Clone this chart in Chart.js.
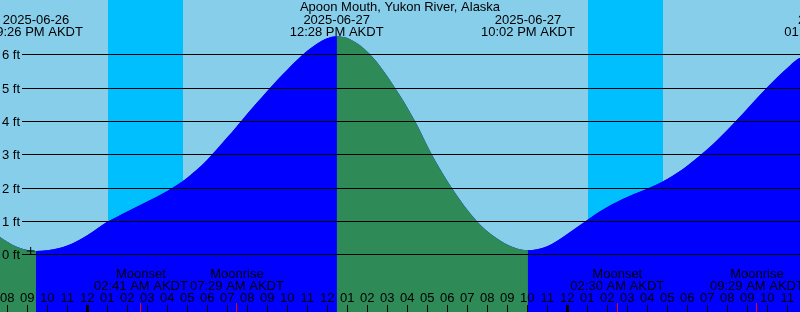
<!DOCTYPE html>
<html>
<head>
<meta charset="utf-8">
<title>Apoon Mouth tide</title>
<script src="https://cdn.jsdelivr.net/npm/chart.js@4.4.1/dist/chart.umd.min.js"></script>
<style>
  html, body { margin: 0; padding: 0; background: #87ceeb; }
  #tide { display: block; }
</style>
</head>
<body>
<canvas id="tide" width="800" height="312"></canvas>
<script>
// times are hours counted from 2025-06-26 00:00 AKDT
var stationName = 'Apoon Mouth, Yukon River, Alaska';

var tideHours = [19.635, 20.0, 20.5, 21.0, 21.433,
    22.0, 22.5, 23.0, 23.5, 24.0, 24.5, 25.0, 25.5, 26.0, 26.5, 27.0, 27.5,
    28.0, 28.5, 29.0, 29.5, 30.0, 30.5, 31.0, 31.5, 32.0, 32.5, 33.0, 33.5,
    34.0, 34.5, 35.0, 35.5, 36.0, 36.467,
    37.135, 38.135, 39.385, 40.385, 41.22, 42.22, 43.47, 44.47, 45.3, 46.033,
    46.5, 47.0, 47.5, 48.0, 48.5, 49.0, 49.5, 50.0, 50.5, 51.0, 51.5, 52.0,
    52.5, 53.0, 53.5, 54.0, 54.5, 55.0, 55.5, 56.0, 56.5, 57.0, 57.5, 58.0,
    58.5, 59.0, 59.5, 59.635];
var tideFeet = [0.52, 0.38, 0.22, 0.13, 0.10,
    0.12, 0.175, 0.265, 0.40, 0.575, 0.775, 0.975, 1.13, 1.285, 1.434, 1.583, 1.735,
    1.898, 2.083, 2.298, 2.548, 2.838, 3.163, 3.508, 3.86, 4.214, 4.562, 4.902, 5.23,
    5.54, 5.835, 6.105, 6.325, 6.48, 6.54,
    6.45, 6.0, 5.0, 4.0, 3.0, 2.0, 1.0, 0.48, 0.21, 0.12,
    0.15, 0.245, 0.405, 0.61, 0.82, 1.03, 1.24, 1.42, 1.58, 1.72, 1.845, 1.97,
    2.10, 2.26, 2.445, 2.66, 2.895, 3.15, 3.43, 3.73, 4.045, 4.37, 4.695, 5.01,
    5.31, 5.59, 5.855, 5.89];

// high / low tide labels
var extremeHours = [21.433, 36.467, 46.033, 61.2];
var extremeDates = ['2025-06-26', '2025-06-27', '2025-06-27', '2025-06-28'];
var extremeClock = ['09:26 PM AKDT', '12:28 PM AKDT', '10:02 PM AKDT', '01:12 PM AKDT'];

// dark part of the night
var sunsetHours = [25.035, 49.035];
var sunriseHours = [28.785, 52.785];

var moonHours = [26.683, 31.483, 50.5, 57.483];
var moonEvents = ['Moonset', 'Moonrise', 'Moonset', 'Moonrise'];
var moonClock = ['02:41 AM AKDT', '07:29 AM AKDT', '02:30 AM AKDT', '09:29 AM AKDT'];

var feetTicks = [0, 1, 2, 3, 4, 5, 6];
var firstTickHour = 20;
var hourLabels = ['08', '09', '10', '11', '12', '01', '02', '03', '04', '05',
    '06', '07', '08', '09', '10', '11', '12', '01', '02', '03',
    '04', '05', '06', '07', '08', '09', '10', '11', '12', '01',
    '02', '03', '04', '05', '06', '07', '08', '09', '10', '11'];

var nowHour = 21.17;
var nowFeet = 0.10;

var SKY = '#87ceeb';
var NIGHT = '#00bfff';
var FLOOD = '#0000ff';
var EBB = '#2e8b57';
var FONT = '13px "Liberation Sans", Arial, sans-serif';

var points = [];
for (var i = 0; i < tideHours.length; i++) {
    points.push({x: tideHours[i], y: tideFeet[i]});
}

var backdrop = {
    id: 'backdrop',
    beforeDraw: function(chart) {
        var ctx = chart.ctx;
        var xs = chart.scales.x;
        ctx.save();
        ctx.fillStyle = SKY;
        ctx.fillRect(0, 0, chart.width, chart.height);
        ctx.fillStyle = NIGHT;
        for (var i = 0; i < sunsetHours.length; i++) {
            var a = Math.round(xs.getPixelForValue(sunsetHours[i]));
            var b = Math.round(xs.getPixelForValue(sunriseHours[i]));
            ctx.fillRect(a, 0, b - a, chart.height);
        }
        ctx.restore();
    }
};

var overlay = {
    id: 'overlay',
    afterDatasetsDraw: function(chart) {
        var ctx = chart.ctx;
        var xs = chart.scales.x;
        var ys = chart.scales.y;
        ctx.save();
        ctx.font = FONT;
        ctx.fillStyle = '#000';
        ctx.strokeStyle = '#000';
        ctx.lineWidth = 1;

        // level lines
        ctx.textAlign = 'right';
        ctx.textBaseline = 'alphabetic';
        feetTicks.forEach(function(v) {
            var y = Math.round(ys.getPixelForValue(v)) + 0.5;
            ctx.beginPath();
            ctx.moveTo(22, y);
            ctx.lineTo(chart.width, y);
            ctx.stroke();
            ctx.fillText(v + ' ft', 20, y + 4);
        });

        // hour ticks
        ctx.textAlign = 'center';
        hourLabels.forEach(function(lab, i) {
            var t = firstTickHour + i;
            var x = xs.getPixelForValue(t);
            var w = (t % 24 === 0) ? 3 : 1;
            ctx.fillStyle = '#000';
            ctx.fillRect(Math.floor(x) - (w - 1) / 2, 305, w, 7);
            ctx.fillText(lab, x, 302);
        });

        // moon
        moonHours.forEach(function(t, i) {
            var x = xs.getPixelForValue(t);
            ctx.fillStyle = '#ff0000';
            ctx.fillRect(Math.floor(x), 303, 1, 9);
            ctx.fillStyle = '#000';
            ctx.fillText(moonEvents[i], x, 278);
            ctx.fillText(moonClock[i], x, 290);
        });

        // tide extremes
        extremeHours.forEach(function(t, i) {
            var x = xs.getPixelForValue(t);
            ctx.fillText(extremeDates[i], x, 24);
            ctx.fillText(extremeClock[i], x, 36);
        });

        ctx.fillText(stationName, chart.width / 2, 11);
        ctx.restore();
    }
};

var chart = new Chart(document.getElementById('tide'), {
    type: 'line',
    data: {
        datasets: [{
            // flood / ebb colouring
            data: points,
            order: 1,
            fill: 'start',
            backgroundColor: EBB,
            borderColor: 'rgba(0,0,0,0)',
            borderWidth: 1,
            pointRadius: 0,
            cubicInterpolationMode: 'monotone',
            segment: {
                backgroundColor: function(c) {
                    return c.p1.parsed.y > c.p0.parsed.y ? FLOOD : EBB;
                }
            }
        }, {
            // plain underlay so the colour joins have no gap
            data: points,
            order: 2,
            fill: 'start',
            backgroundColor: FLOOD,
            borderColor: 'rgba(0,0,0,0)',
            borderWidth: 1,
            pointRadius: 0,
            cubicInterpolationMode: 'monotone'
        }, {
            type: 'scatter',
            data: [{x: nowHour, y: nowFeet}],
            order: 0,
            pointStyle: 'cross',
            pointRadius: 4,
            borderColor: '#000',
            borderWidth: 1
        }]
    },
    options: {
        responsive: false,
        animation: false,
        layout: {padding: 0, autoPadding: false},
        plugins: {legend: {display: false}, tooltip: {enabled: false}},
        scales: {
            x: {type: 'linear', min: 19.635, max: 59.635, display: false},
            y: {min: -1.731, max: 7.629, display: false}
        }
    },
    plugins: [backdrop, overlay]
});
</script>
</body>
</html>
